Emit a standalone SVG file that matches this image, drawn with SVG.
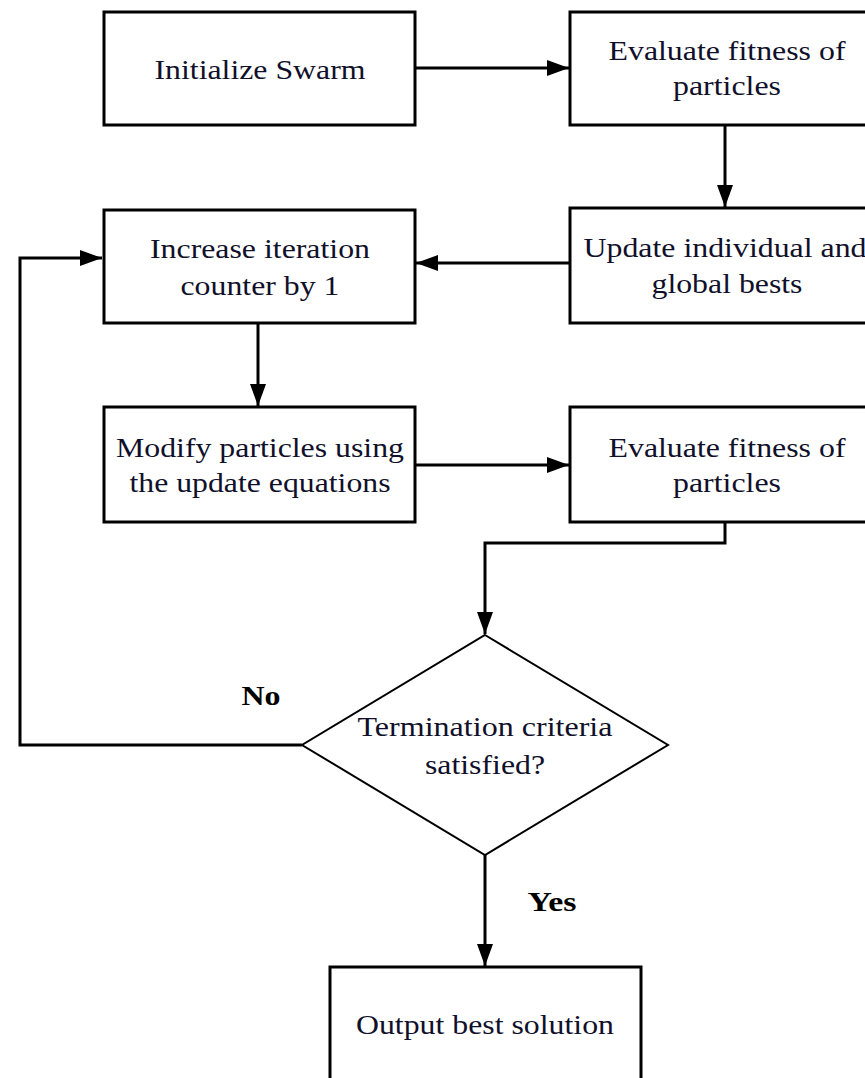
<svg xmlns="http://www.w3.org/2000/svg" width="865" height="1078" viewBox="0 0 865 1078">
<style>
.box{fill:#fff;stroke:#000;stroke-width:3}
.dia{fill:#fff;stroke:#000;stroke-width:2}
.t{font-size:28px;fill:#10102a;text-anchor:middle}
.b{font-weight:bold;fill:#000}
.c{fill:none;stroke:#000;stroke-width:3}
</style>
<defs>
<marker id="ah" markerUnits="userSpaceOnUse" markerWidth="22" markerHeight="16" refX="22" refY="8" orient="auto">
<path d="M0,0 L22,8 L0,16 z" fill="#000"/>
</marker>
</defs>
<rect width="865" height="1078" fill="#fff"/>
<g font-family="Liberation Serif, Tinos, Times New Roman, serif">
<g id="connectors">
<path class="c" d="M415,68 H569" marker-end="url(#ah)"/>
<path class="c" d="M725,125 V207" marker-end="url(#ah)"/>
<path class="c" d="M570,263 H416" marker-end="url(#ah)"/>
<path class="c" d="M258,323 V406" marker-end="url(#ah)"/>
<path class="c" d="M415,465 H569" marker-end="url(#ah)"/>
<path class="c" d="M725,522 V543 H485 V634" marker-end="url(#ah)"/>
<path class="c" d="M302,745 H20 V258 H102" marker-end="url(#ah)"/>
<path class="c" d="M485,855 V966" marker-end="url(#ah)"/>
<text class="t b" x="261" y="705" textLength="39" lengthAdjust="spacingAndGlyphs">No</text>
<text class="t b" x="552" y="911" textLength="49" lengthAdjust="spacingAndGlyphs">Yes</text>
</g>
<g id="init">
<rect class="box" x="104" y="12" width="311" height="113"/>
<text class="t" x="260" y="79" textLength="211" lengthAdjust="spacingAndGlyphs">Initialize Swarm</text>
</g>
<g id="eval1">
<rect class="box" x="570" y="12" width="311" height="113"/>
<text class="t" x="727" y="60" textLength="237" lengthAdjust="spacingAndGlyphs">Evaluate fitness of</text>
<text class="t" x="727" y="95" textLength="108" lengthAdjust="spacingAndGlyphs">particles</text>
</g>
<g id="update">
<rect class="box" x="570" y="208" width="311" height="115"/>
<text class="t" x="725" y="257" textLength="283" lengthAdjust="spacingAndGlyphs">Update individual and</text>
<text class="t" x="727" y="293" textLength="151" lengthAdjust="spacingAndGlyphs">global bests</text>
</g>
<g id="increase">
<rect class="box" x="104" y="210" width="311" height="113"/>
<text class="t" x="260" y="258" textLength="220" lengthAdjust="spacingAndGlyphs">Increase iteration</text>
<text class="t" x="260" y="295" textLength="159" lengthAdjust="spacingAndGlyphs">counter by 1</text>
</g>
<g id="modify">
<rect class="box" x="104" y="407" width="311" height="115"/>
<text class="t" x="260" y="457" textLength="288" lengthAdjust="spacingAndGlyphs">Modify particles using</text>
<text class="t" x="260" y="492" textLength="261" lengthAdjust="spacingAndGlyphs">the update equations</text>
</g>
<g id="eval2">
<rect class="box" x="570" y="407" width="311" height="115"/>
<text class="t" x="727" y="457" textLength="237" lengthAdjust="spacingAndGlyphs">Evaluate fitness of</text>
<text class="t" x="727" y="492" textLength="108" lengthAdjust="spacingAndGlyphs">particles</text>
</g>
<g id="decision">
<polygon class="dia" points="485,635 668,745 485,855 302,745"/>
<text class="t" x="485" y="736" textLength="255" lengthAdjust="spacingAndGlyphs">Termination criteria</text>
<text class="t" x="485" y="774" textLength="120" lengthAdjust="spacingAndGlyphs">satisfied?</text>
</g>
<g id="output">
<rect class="box" x="330" y="967" width="311" height="125"/>
<text class="t" x="485" y="1034" textLength="258" lengthAdjust="spacingAndGlyphs">Output best solution</text>
</g>
</g>
</svg>
